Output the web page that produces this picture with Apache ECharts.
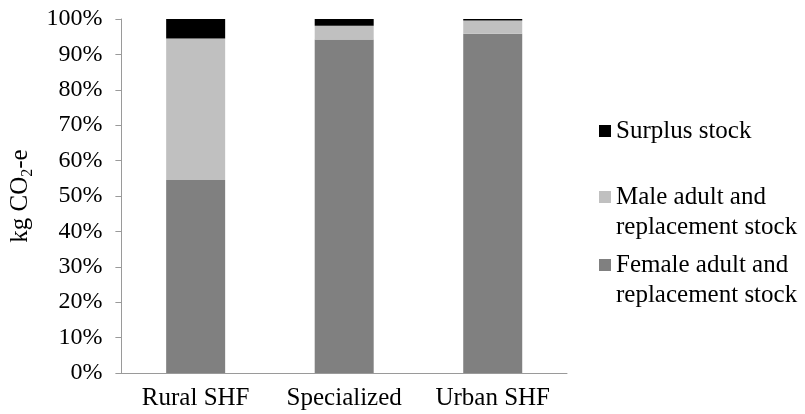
<!DOCTYPE html>
<html><head><meta charset="utf-8">
<script src="https://cdn.jsdelivr.net/npm/echarts@6/dist/echarts.min.js"></script>
<style>html,body{margin:0;padding:0;background:#fff}#c{width:805px;height:414px}</style>
</head><body><div id="c"></div>
<script>
var categories = ['Rural SHF', 'Specialized', 'Urban SHF'];
var femaleStock = [54.5, 94.2, 95.8];
var maleStock = [40.0, 3.9, 3.8];
var surplusStock = [5.5, 1.9, 0.4];
var yTicks = [0, 10, 20, 30, 40, 50, 60, 70, 80, 90, 100];
var names = ['Female adult and\nreplacement stock', 'Male adult and\nreplacement stock', 'Surplus stock'];

var font = 'Liberation Serif';
var fs = 24;
var fsBig = 25;
var axisColor = '#9a9a9a';
var tallIcon = 'path://M0,0L12,0L12,12L0,12Z M0,42L0.01,42';

function legend(name, top, twoLine) {
  return {
    data: [name], left: 599, top: top, padding: 0, orient: 'vertical',
    itemWidth: 12, itemHeight: twoLine ? 42 : 12,
    icon: twoLine ? tallIcon : 'rect',
    selectedMode: false,
    textStyle: { fontFamily: font, fontSize: fsBig, color: '#000', lineHeight: 30 }
  };
}

var chart = echarts.init(document.getElementById('c'), null, { renderer: 'canvas' });
chart.setOption({
  animation: false,
  textStyle: { fontFamily: font },
  grid: { left: 118, right: 238, top: 19, bottom: 41 },
  legend: [legend(names[2], 116, false), legend(names[1], 182, true), legend(names[0], 250, true)],
  xAxis: {
    type: 'category', data: categories,
    axisLine: { lineStyle: { color: axisColor } },
    axisTick: { length: 6, lineStyle: { color: axisColor } },
    axisLabel: { interval: 0, hideOverlap: false, fontFamily: font, fontSize: fsBig, color: '#000', margin: 13 }
  },
  yAxis: {
    type: 'value', min: 0, max: 100, interval: 10,
    name: '{n|kg CO}{s|2}{n|-e}', nameLocation: 'middle', nameRotate: 90, nameGap: 83,
    nameTextStyle: { rich: { n: { fontFamily: font, fontSize: fsBig, color: '#000' }, s: { fontFamily: font, fontSize: 16, color: '#000', verticalAlign: 'bottom', padding: [14, 0, 0, 0] } } },
    axisLine: { show: true, lineStyle: { color: axisColor } },
    axisTick: { show: true, length: 6, lineStyle: { color: axisColor } },
    splitLine: { show: false },
    axisLabel: { fontFamily: font, fontSize: fs, color: '#000', margin: 19, formatter: function (v) { return v + '%'; } }
  },
  series: [
    { name: names[0], type: 'bar', stack: 's', data: femaleStock, barWidth: 59, itemStyle: { color: '#808080' } },
    { name: names[1], type: 'bar', stack: 's', data: maleStock, barWidth: 59, itemStyle: { color: '#c0c0c0' } },
    { name: names[2], type: 'bar', stack: 's', data: surplusStock, barWidth: 59, itemStyle: { color: '#000000' } }
  ]
});
</script></body></html>
